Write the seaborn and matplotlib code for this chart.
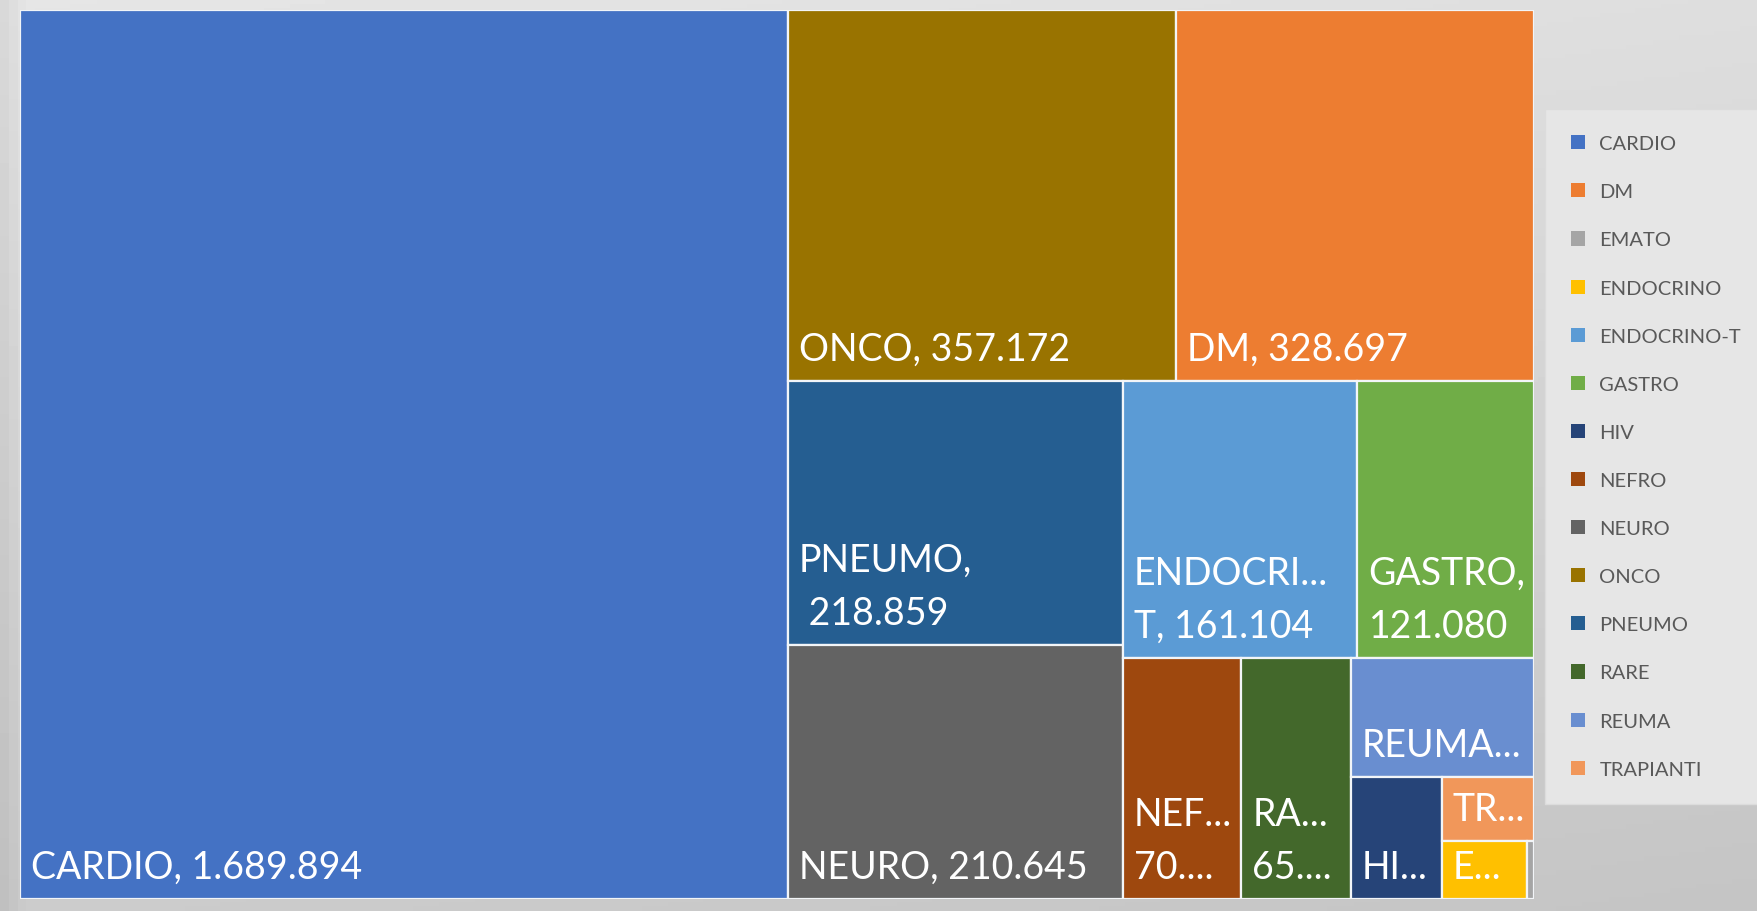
import numpy as np
import matplotlib
matplotlib.use("Agg")
import matplotlib.pyplot as plt
from matplotlib.patches import Rectangle, Patch
import seaborn as sns

# categories in legend order (alphabetical, as in the Excel legend)
categories = ["CARDIO", "DM", "EMATO", "ENDOCRINO", "ENDOCRINO-T", "GASTRO", "HIV",
              "NEFRO", "NEURO", "ONCO", "PNEUMO", "RARE", "REUMA", "TRAPIANTI"]
values = [1689894, 328697, 1000, 12300, 161104, 121080, 27400,
          70800, 210645, 357172, 218859, 65400, 54000, 14600]
# labels as Excel shows them inside the tiles (wrapped / truncated)
tile_labels = ["CARDIO, 1.689.894", "DM, 328.697", "", "E...", "ENDOCRI...\nT, 161.104",
               "GASTRO,\n121.080", "HI...", "NEF...\n70....", "NEURO, 210.645",
               "ONCO, 357.172", "PNEUMO,\n 218.859", "RA...\n65....", "REUMA...", "TR..."]
colors = ["#4472C4", "#ED7D31", "#A5A5A5", "#FFC000", "#5B9BD5", "#70AD47", "#264478",
          "#9E480E", "#636363", "#997300", "#255E91", "#43682B", "#698ED0", "#F1975A"]


def worst(row, side):
    s = sum(row)
    return max(max(s * s / (side * side * r), side * side * r / (s * s)) for r in row)


def squarify(areas, x, y, w, h, gain=1.3):
    # squarified treemap, a bit more reluctant to grow a row (like Excel)
    rects = []
    i = 0
    while i < len(areas):
        side = min(w, h)
        row = [areas[i]]
        j = i + 1
        while j < len(areas) and worst(row + [areas[j]], side) * gain < worst(row, side):
            row.append(areas[j])
            j += 1
        s = sum(row)
        if w >= h:
            cw = s / h
            yy = y
            for r in row:
                rects.append((x, yy, cw, r / cw))
                yy += r / cw
            x += cw
            w -= cw
        else:
            rh = s / w
            xx = x
            for r in row:
                rects.append((xx, y, r / rh, rh))
                xx += r / rh
            y += rh
            h -= rh
        i = j
    return rects


sns.set_theme(style="white")
plt.rcParams["font.family"] = ["Lato", "DejaVu Sans"]

fig = plt.figure(figsize=(17.58, 9.12), dpi=100)

# gray gradient background
bg = fig.add_axes([0, 0, 1, 1], zorder=-1)
yy, xx = np.mgrid[0:1:200j, 0:1:200j]
shade = 0.90 - 0.10 * yy - 0.03 * xx - 0.05 * np.clip(1 - xx * 80, 0, 1)
bg.imshow(shade, cmap="gray", vmin=0, vmax=1, aspect="auto", extent=(0, 1, 0, 1))
bg.axis("off")

ax = fig.add_axes([20 / 1758, 12 / 912, 1514 / 1758, 889 / 912])
W = fig.get_figwidth() * fig.dpi * ax.get_position().width
H = fig.get_figheight() * fig.dpi * ax.get_position().height

order = np.argsort(values)[::-1]
total = float(sum(values))
areas = [values[k] / total * W * H for k in order]
rects = squarify(areas, 0, 0, W, H)

for k, (x, y, w, h) in zip(order, rects):
    ax.add_patch(Rectangle((x, y), w, h, facecolor=colors[k], edgecolor="#f2f5f8", linewidth=1.6))
    if tile_labels[k]:
        ax.annotate(tile_labels[k], (x, y + h), xytext=(8, 10), textcoords="offset points",
                    ha="left", va="bottom", color="white", fontsize=27, linespacing=1.6)

ax.set_xlim(0, W)
ax.set_ylim(H, 0)
ax.axis("off")

handles = [Patch(facecolor=c, edgecolor="none") for c in colors]
leg = fig.legend(handles, categories, loc="upper left", bbox_to_anchor=(1545 / 1758, 1 - 110 / 912),
                 fontsize=14.5, frameon=True, facecolor="#e6e6e6", edgecolor="#dcdcdc", framealpha=1,
                 fancybox=False, handlelength=0.7, handleheight=0.7, handletextpad=0.7,
                 labelspacing=1.54, borderpad=1.3, borderaxespad=0)
for t in leg.get_texts():
    t.set_color("#595959")

fig.savefig("out.png", dpi=100)
